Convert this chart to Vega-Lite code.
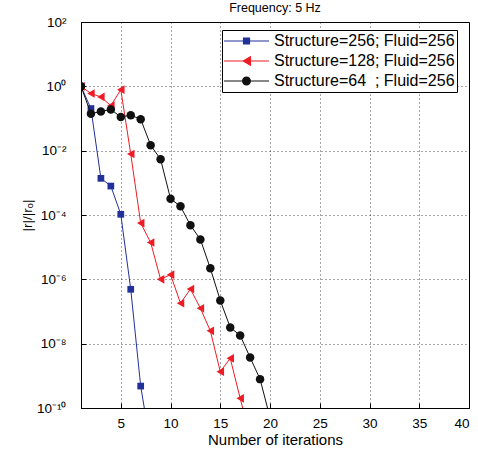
{
  "$schema": "https://vega.github.io/schema/vega-lite/v6.json",
  "width": 388,
  "height": 386,
  "autosize": "none",
  "padding": {"left": 81, "top": 22, "right": 9, "bottom": 46},
  "title": {"text": "Frequency: 5 Hz", "fontSize": 12.5, "font": "Liberation Sans", "fontWeight": "normal", "offset": 1, "color": "#000"},
  "data": {"values": [
    {"iter": 1, "res": 1, "series": "Structure=256; Fluid=256"},
    {"iter": 2, "res": 0.204, "series": "Structure=256; Fluid=256"},
    {"iter": 3, "res": 0.00138, "series": "Structure=256; Fluid=256"},
    {"iter": 4, "res": 0.000794, "series": "Structure=256; Fluid=256"},
    {"iter": 5, "res": 0.000105, "series": "Structure=256; Fluid=256"},
    {"iter": 6, "res": 4.9e-7, "series": "Structure=256; Fluid=256"},
    {"iter": 7, "res": 4.8e-10, "series": "Structure=256; Fluid=256"},
    {"iter": 8, "res": 6.3e-12, "series": "Structure=256; Fluid=256"},
    {"iter": 1, "res": 1, "series": "Structure=128; Fluid=256"},
    {"iter": 2, "res": 0.60, "series": "Structure=128; Fluid=256"},
    {"iter": 3, "res": 0.47, "series": "Structure=128; Fluid=256"},
    {"iter": 4, "res": 0.25, "series": "Structure=128; Fluid=256"},
    {"iter": 5, "res": 0.79, "series": "Structure=128; Fluid=256"},
    {"iter": 6, "res": 0.0079, "series": "Structure=128; Fluid=256"},
    {"iter": 7, "res": 5.6e-5, "series": "Structure=128; Fluid=256"},
    {"iter": 8, "res": 1.4e-5, "series": "Structure=128; Fluid=256"},
    {"iter": 9, "res": 1.0e-6, "series": "Structure=128; Fluid=256"},
    {"iter": 10, "res": 1.4e-6, "series": "Structure=128; Fluid=256"},
    {"iter": 11, "res": 1.8e-7, "series": "Structure=128; Fluid=256"},
    {"iter": 12, "res": 5.0e-7, "series": "Structure=128; Fluid=256"},
    {"iter": 13, "res": 1.26e-7, "series": "Structure=128; Fluid=256"},
    {"iter": 14, "res": 2.5e-8, "series": "Structure=128; Fluid=256"},
    {"iter": 15, "res": 1.35e-9, "series": "Structure=128; Fluid=256"},
    {"iter": 16, "res": 3.5e-9, "series": "Structure=128; Fluid=256"},
    {"iter": 17, "res": 2.0e-10, "series": "Structure=128; Fluid=256"},
    {"iter": 18, "res": 1.26e-11, "series": "Structure=128; Fluid=256"},
    {"iter": 1, "res": 1, "series": "Structure=64\u00a0\u00a0; Fluid=256"},
    {"iter": 2, "res": 0.141, "series": "Structure=64\u00a0\u00a0; Fluid=256"},
    {"iter": 3, "res": 0.166, "series": "Structure=64\u00a0\u00a0; Fluid=256"},
    {"iter": 4, "res": 0.19, "series": "Structure=64\u00a0\u00a0; Fluid=256"},
    {"iter": 5, "res": 0.112, "series": "Structure=64\u00a0\u00a0; Fluid=256"},
    {"iter": 6, "res": 0.126, "series": "Structure=64\u00a0\u00a0; Fluid=256"},
    {"iter": 7, "res": 0.095, "series": "Structure=64\u00a0\u00a0; Fluid=256"},
    {"iter": 8, "res": 0.0148, "series": "Structure=64\u00a0\u00a0; Fluid=256"},
    {"iter": 9, "res": 0.0054, "series": "Structure=64\u00a0\u00a0; Fluid=256"},
    {"iter": 10, "res": 3.2e-4, "series": "Structure=64\u00a0\u00a0; Fluid=256"},
    {"iter": 11, "res": 1.86e-4, "series": "Structure=64\u00a0\u00a0; Fluid=256"},
    {"iter": 12, "res": 4.8e-5, "series": "Structure=64\u00a0\u00a0; Fluid=256"},
    {"iter": 13, "res": 1.74e-5, "series": "Structure=64\u00a0\u00a0; Fluid=256"},
    {"iter": 14, "res": 2.2e-6, "series": "Structure=64\u00a0\u00a0; Fluid=256"},
    {"iter": 15, "res": 2.2e-7, "series": "Structure=64\u00a0\u00a0; Fluid=256"},
    {"iter": 16, "res": 3.2e-8, "series": "Structure=64\u00a0\u00a0; Fluid=256"},
    {"iter": 17, "res": 1.8e-8, "series": "Structure=64\u00a0\u00a0; Fluid=256"},
    {"iter": 18, "res": 3.7e-9, "series": "Structure=64\u00a0\u00a0; Fluid=256"},
    {"iter": 19, "res": 7.9e-10, "series": "Structure=64\u00a0\u00a0; Fluid=256"},
    {"iter": 20, "res": 5e-11, "series": "Structure=64\u00a0\u00a0; Fluid=256"}
  ]},
  "encoding": {
    "x": {
      "field": "iter", "type": "quantitative",
      "scale": {"domain": [1, 40], "nice": false, "zero": false},
      "axis": {
        "title": "Number of iterations",
        "values": [5, 10, 15, 20, 25, 30, 35, 40],
        "grid": true, "gridDash": [1, 3], "gridColor": "#000", "gridOpacity": 0.7,
        "tickSize": -5, "tickColor": "#000", "domainColor": "#000",
        "labelFontSize": 13.5, "labelPadding": 13, "labelColor": "#000", "labelFont": "Liberation Sans",
        "titleFontSize": 15, "titleFontWeight": "normal", "titlePadding": 3, "titleColor": "#000", "titleFont": "Liberation Sans"
      }
    },
    "y": {
      "field": "res", "type": "quantitative",
      "scale": {"type": "log", "domain": [1e-10, 100], "nice": false},
      "axis": {
        "title": "|r|/|rₒ|",
        "values": [1e-10, 1e-8, 1e-6, 1e-4, 1e-2, 1, 100],
        "labelExpr": "['10⁻¹⁰','10⁻⁸','10⁻⁶','10⁻⁴','10⁻²','10⁰','10²'][round(log(datum.value)/LN10/2)+5]",
        "grid": true, "gridDash": [1, 3], "gridColor": "#000", "gridOpacity": 0.7,
        "tickSize": -5, "tickColor": "#000", "domainColor": "#000",
        "labelFontSize": 13.5, "labelPadding": 20, "labelColor": "#000", "labelFont": "Liberation Sans",
        "titleFontSize": 13.5, "titleFontWeight": "normal", "titlePadding": 2, "titleColor": "#000", "titleFont": "Liberation Sans"
      }
    }
  },
  "layer": [
    {"transform": [{"filter": "datum.series === 'Structure=256; Fluid=256'"}],
     "mark": {"type": "line", "clip": true, "strokeWidth": 1, "color": "#22319a"}},
    {"transform": [{"filter": "datum.series === 'Structure=256; Fluid=256'"}],
     "mark": {"type": "point", "filled": true, "clip": true, "opacity": 1, "shape": "square", "size": 45, "color": "#22319a"}},
    {"transform": [{"filter": "datum.series === 'Structure=128; Fluid=256'"}],
     "mark": {"type": "line", "clip": true, "strokeWidth": 1, "color": "#ee1c25"}},
    {"transform": [{"filter": "datum.series === 'Structure=128; Fluid=256'"}],
     "mark": {"type": "point", "filled": true, "clip": true, "opacity": 1, "shape": "triangle-left", "size": 75, "color": "#ee1c25"}},
    {"transform": [{"filter": "indexof(datum.series, 'Structure=64') === 0"}],
     "mark": {"type": "line", "clip": true, "strokeWidth": 1, "color": "#111111"}},
    {"transform": [{"filter": "indexof(datum.series, 'Structure=64') === 0"}],
     "mark": {"type": "point", "filled": true, "clip": true, "opacity": 1, "shape": "circle", "size": 72, "color": "#111111"}},
    {"transform": [{"filter": "false"}],
     "mark": {"type": "point", "filled": true, "clip": true, "opacity": 1},
     "encoding": {
       "fill": {"field": "series", "type": "nominal",
         "scale": {"domain": ["Structure=256; Fluid=256", "Structure=128; Fluid=256", "Structure=64\u00a0\u00a0; Fluid=256"], "range": ["#22319a", "#ee1c25", "#111111"]},
         "legend": {
           "orient": "none", "legendX": 141, "legendY": 8, "title": null,
           "symbolSize": 2025, "clipHeight": 18, "rowPadding": 2, "padding": 2,
           "labelOffset": 5, "labelFontSize": 16, "labelFont": "Liberation Sans", "labelColor": "#000", "labelLimit": 0,
           "strokeColor": "#000", "fillColor": "#fff", "symbolOpacity": 1, "symbolStrokeWidth": 0
         }},
       "shape": {"field": "series", "type": "nominal",
         "scale": {"domain": ["Structure=256; Fluid=256", "Structure=128; Fluid=256", "Structure=64\u00a0\u00a0; Fluid=256"],
           "range": ["M-1,-0.025H1V0.025H-1ZM-0.16,-0.16H0.16V0.16H-0.16Z", "M-1,-0.025H1V0.025H-1ZM-0.2,0L0.2,-0.23L0.2,0.23Z", "M-1,-0.025H1V0.025H-1ZM-0.2,0A0.2,0.2,0,1,1,0.2,0A0.2,0.2,0,1,1,-0.2,0Z"]}}
     }}
  ],
  "config": {
    "view": {"stroke": "#000", "strokeWidth": 1},
    "font": "Liberation Sans"
  }
}
